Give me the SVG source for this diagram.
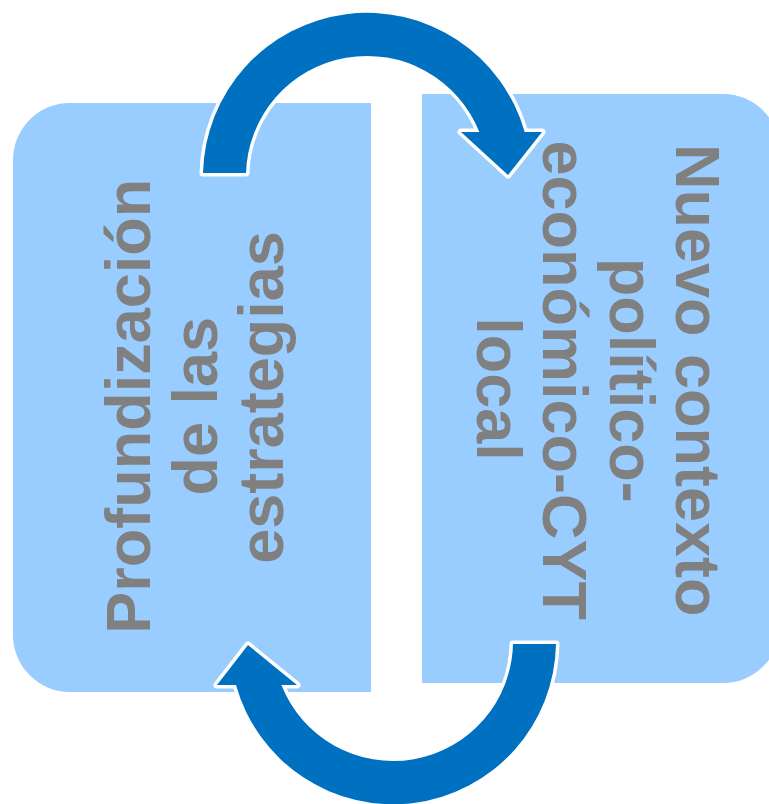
<svg xmlns="http://www.w3.org/2000/svg" width="769" height="804" viewBox="0 0 769 804">
  <style>
    .box { fill: #99CCFF; }
    .lbl { font-family: "Liberation Sans", Arial, sans-serif; font-weight: bold; font-size: 63px; fill: #808080; text-anchor: middle; }
    .arrow { fill: #0070C0; stroke: #FFFFFF; stroke-width: 7; stroke-linejoin: round; paint-order: stroke; }
  </style>
  <rect width="769" height="804" fill="#FFFFFF"/>
  <g id="node-left">
    <path class="box" d="M371,103 L70,103 A57,57 0 0 0 13,160 L13,635 A57,57 0 0 0 70,692 L371,692 Z"/>
    <text class="lbl" transform="translate(150,397.5) rotate(-90)">
      <tspan x="0" y="0">Profundización</tspan>
      <tspan x="0" dy="66.5">de las</tspan>
      <tspan x="0" dy="66.5">estrategias</tspan>
    </text>
  </g>
  <g id="node-right">
    <path class="box" d="M422,94 L723,94 A57,57 0 0 1 780,151 L780,626 A57,57 0 0 1 723,683 L422,683 Z"/>
    <text class="lbl" transform="translate(676,389) rotate(90)">
      <tspan x="0" y="0">Nuevo contexto</tspan>
      <tspan x="0" dy="66.5">político-</tspan>
      <tspan x="0" dy="66.5">económico-CYT</tspan>
      <tspan x="0" dy="66.5">local</tspan>
    </text>
  </g>
  <g id="connectors">
    <path id="arrow-top" class="arrow" d="M203,173 A164,164 0 0 1 524.7,132 L542,132 L508,175 L461,132 L479.3,132 A121,121 0 0 0 246,173 Z"/>
    <path id="arrow-bottom" class="arrow" d="M556,644 A163,163 0 0 1 236,685 L217,685 L248,645 L297,685 L281.4,685 A120,120 0 0 0 513,644 Z"/>
  </g>
</svg>
